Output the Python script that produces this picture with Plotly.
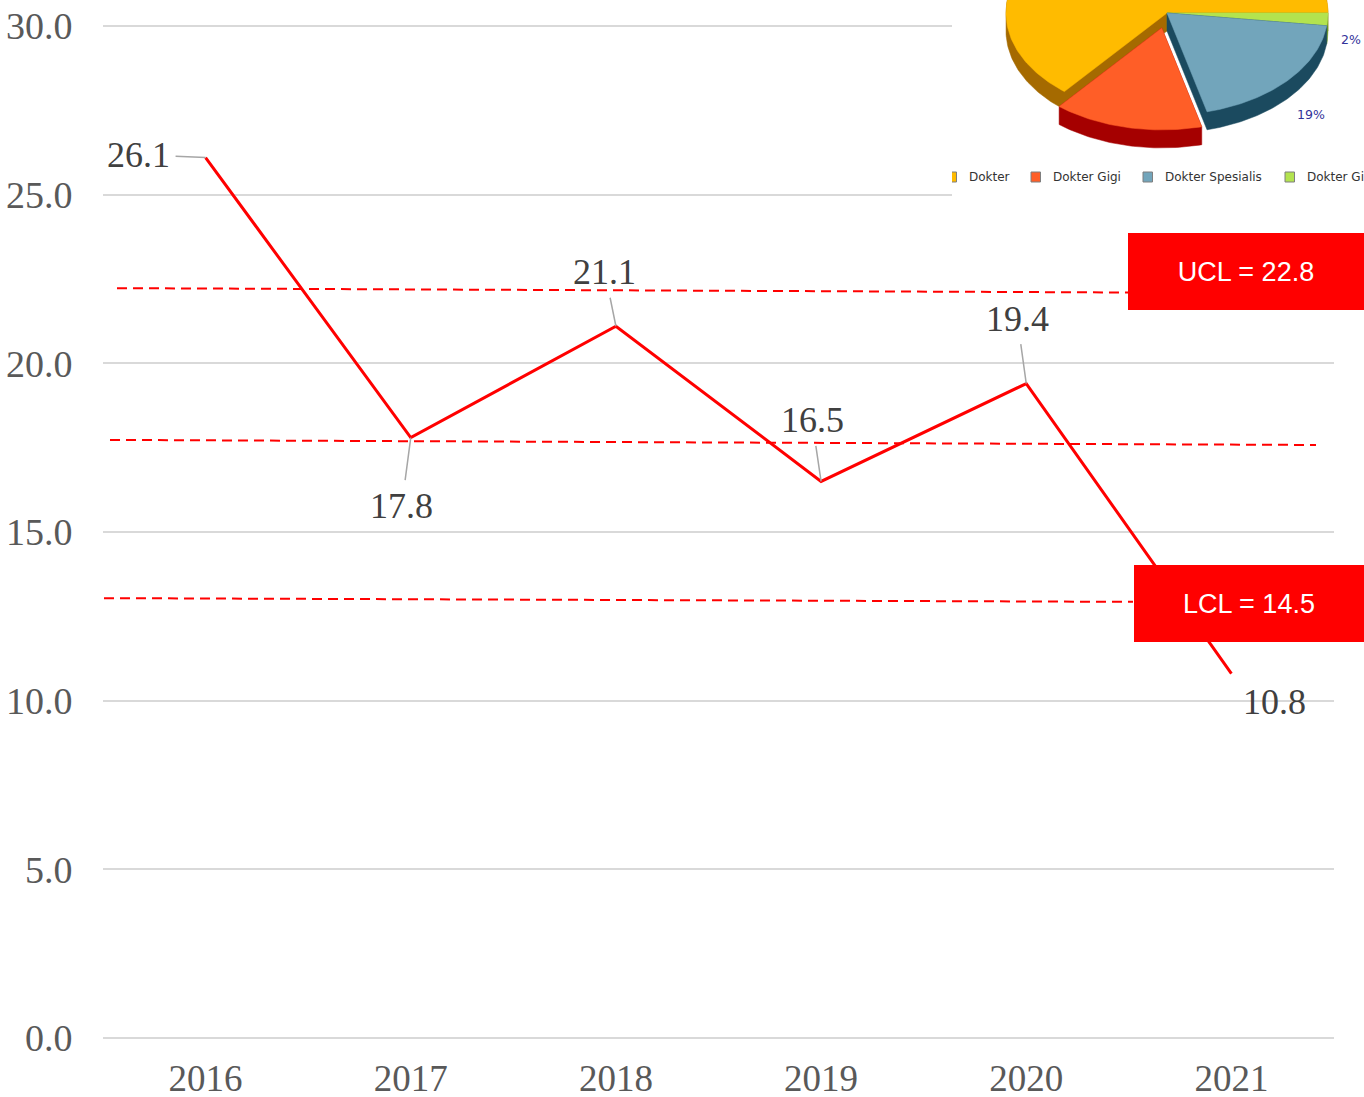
import numpy as np
import plotly.graph_objects as go

# ---------------- data ----------------
years = ["2016", "2017", "2018", "2019", "2020", "2021"]
values = [26.1, 17.8, 21.1, 16.5, 19.4, 10.8]
label_offsets = [(-67, -3), (-9, 68), (-11, -54), (-9, -61), (-9, -65), (43, 28)]
show_leader = [True, True, True, True, True, False]

ucl_line = [22.23, 22.10]
center_line = [17.73, 17.58]
lcl_line = [13.04, 12.93]
ucl_text = "UCL = 22.8"
lcl_text = "LCL = 14.5"

pie_labels = ["Dokter", "Dokter Gigi", "Dokter Spesialis", "Dokter Gigi Spesialis"]
pie_shares = [64, 15, 19, 2]
pie_top = ["#FFBB00", "#FF5E27", "#72A5BB", "#B3E34F"]
pie_side = ["#A56A00", "#A50000", "#1B4A5F", "#6F9A20"]
pie_explode = [0.0, 0.15, 0.0, 0.0]
pie_pct_text = {"Dokter Spesialis": "19%", "Dokter Gigi Spesialis": "2%"}

W, H = 1364, 1097
fig = go.Figure()

# ---------------- main line ----------------
fig.add_trace(go.Scatter(x=years, y=values, mode="lines",
                         line=dict(color="#FF0000", width=3),
                         hoverinfo="skip", showlegend=False))

# ---------------- pie (pseudo 3D) on x2/y2 pixel-like axes ----------------
CX, CY, RX, RY, D = 1167, 13, 161, 102, 18


def hull(points):
    pts = sorted(set(points))
    if len(pts) <= 2:
        return pts

    def cross(o, a, b):
        return (a[0] - o[0]) * (b[1] - o[1]) - (a[1] - o[1]) * (b[0] - o[0])
    lower, upper = [], []
    for p in pts:
        while len(lower) >= 2 and cross(lower[-2], lower[-1], p) <= 0:
            lower.pop()
        lower.append(p)
    for p in reversed(pts):
        while len(upper) >= 2 and cross(upper[-2], upper[-1], p) <= 0:
            upper.pop()
        upper.append(p)
    return lower[:-1] + upper[:-1]


def sector(a0, a1, ox, oy):
    n = max(int(np.degrees(a1 - a0)), 2) + 1
    ts = np.linspace(a0, a1, n)
    pts = [(CX + ox, CY + oy)]
    pts += [(round(CX + ox + RX * np.cos(t), 3), round(CY + oy + RY * np.sin(t), 3)) for t in ts]
    return pts


# slices go clockwise from angle 0 in reverse label order
order = list(range(len(pie_labels)))[::-1]
angles = {}
acc = 0.0
for i in order:
    a0 = acc
    acc += pie_shares[i] / 100 * 2 * np.pi
    angles[i] = (a0, acc)

draw_order = [0, 3, 2, 1]
for i in draw_order:
    a0, a1 = angles[i]
    mid = (a0 + a1) / 2
    ox = pie_explode[i] * RX * np.cos(mid)
    oy = pie_explode[i] * RY * np.sin(mid)
    npieces = int(np.ceil((a1 - a0) / (np.pi / 2)))
    edges = np.linspace(a0, a1, npieces + 1)
    for k in range(npieces):
        sp = sector(edges[k], edges[k + 1], ox, oy)
        hp = hull(sp + [(x, y + D) for x, y in sp])
        fig.add_trace(go.Scatter(x=[p[0] for p in hp] + [hp[0][0]],
                                 y=[p[1] for p in hp] + [hp[0][1]],
                                 xaxis="x2", yaxis="y2", mode="lines", fill="toself",
                                 fillcolor=pie_side[i], line=dict(width=0.5, color=pie_side[i]),
                                 hoverinfo="skip", showlegend=False))
    top = sector(a0, a1, ox, oy)
    fig.add_trace(go.Scatter(x=[p[0] for p in top] + [top[0][0]],
                             y=[p[1] for p in top] + [top[0][1]],
                             xaxis="x2", yaxis="y2", mode="lines", fill="toself",
                             fillcolor=pie_top[i], line=dict(width=0.5, color=pie_top[i]),
                             hoverinfo="skip", showlegend=False))

shapes = []
annotations = []

# white backdrop for the pasted pie picture
shapes.append(dict(type="rect", xref="x2", yref="y2", x0=940, x1=1370, y0=-10, y1=210,
                   fillcolor="white", line=dict(width=0), layer="below"))

# pie percent labels
pct_pos = {"Dokter Spesialis": (1311, 114), "Dokter Gigi Spesialis": (1351, 39)}
for lab, txt in pie_pct_text.items():
    px, py = pct_pos[lab]
    annotations.append(dict(xref="x2", yref="y2", x=px, y=py, text=txt, showarrow=False,
                            font=dict(family="DejaVu Sans", size=12.5, color="#33339A")))

# pie legend
leg_sq = [947, 1031, 1143, 1285]
for i, lab in enumerate(pie_labels):
    x0 = leg_sq[i]
    shapes.append(dict(type="rect", xref="x2", yref="y2", x0=x0, x1=x0 + 9.5, y0=172, y1=182,
                       fillcolor=pie_top[i], line=dict(width=1, color="#7F7F7F"), layer="above"))
    annotations.append(dict(xref="x2", yref="y2", x=x0 + 20, y=177, text=lab, showarrow=False,
                            xanchor="left", yanchor="middle",
                            font=dict(family="DejaVu Sans", size=12, color="#333333")))

# control lines (slightly skewed as in the picture)
ctrl = [(ucl_line, 117, 1128), (center_line, 110, 1316), (lcl_line, 104, 1133)]
for vals, xs, xe in ctrl:
    shapes.append(dict(type="line", xref="paper", yref="y", x0=xs / W, x1=xe / W,
                       y0=vals[0], y1=vals[1],
                       line=dict(color="#FF0000", width=2, dash="10px,6px"), layer="above"))

# data labels (x given as category index)
for idx, (v, (dx, dy), lead) in enumerate(zip(values, label_offsets, show_leader)):
    annotations.append(dict(x=idx, y=v, xref="x", yref="y", text=f"{v:.1f}",
                            showarrow=True, ax=dx, ay=dy,
                            xanchor="center", yanchor="middle",
                            arrowhead=0, arrowwidth=1.5,
                            arrowcolor="#A6A6A6" if lead else "rgba(255,255,255,0)",
                            borderpad=5,
                            font=dict(family="Liberation Serif", size=36, color="#404040")))

# UCL / LCL boxes
for txt, cx, cy, bw in [(ucl_text, 1246, 271, 236), (lcl_text, 1249, 603, 230)]:
    annotations.append(dict(xref="paper", yref="paper", x=cx / W, y=1 - cy / H,
                            xanchor="center", yanchor="middle", text=txt, showarrow=False,
                            width=bw, height=77, bgcolor="#FF0000", borderpad=0, borderwidth=0,
                            align="center", valign="middle",
                            font=dict(family="Liberation Sans", size=27, color="white")))

fig.update_layout(
    width=W, height=H,
    margin=dict(l=0, r=0, t=0, b=0, autoexpand=False),
    paper_bgcolor="white", plot_bgcolor="white",
    showlegend=False,
    xaxis=dict(type="category", domain=[103 / W, 1334 / W], range=[-0.5, 5.5],
               showgrid=False, showline=False, zeroline=False, automargin=False,
               ticks="outside", ticklen=8, tickcolor="rgba(0,0,0,0)",
               tickfont=dict(family="Liberation Serif", size=37, color="#595959"),
               anchor="y"),
    yaxis=dict(domain=[1 - 1038 / H, 1 - 24 / H], range=[0, 30.06], dtick=5, tick0=0,
               tickformat=".1f", showgrid=True, gridcolor="#D9D9D9", gridwidth=2,
               zeroline=True, zerolinecolor="#D9D9D9", zerolinewidth=2, showline=False,
               automargin=False,
               ticks="outside", ticklen=22, tickcolor="rgba(0,0,0,0)",
               tickfont=dict(family="Liberation Serif", size=38, color="#595959"),
               anchor="x"),
    xaxis2=dict(domain=[952 / W, 1], range=[952, 1364], visible=False, anchor="y2",
                showgrid=False, zeroline=False, automargin=False),
    yaxis2=dict(domain=[1 - 200 / H, 1], range=[200, 0], visible=False, anchor="x2",
                showgrid=False, zeroline=False, automargin=False),
    shapes=shapes,
    annotations=annotations,
)

fig.write_html("out.html")
